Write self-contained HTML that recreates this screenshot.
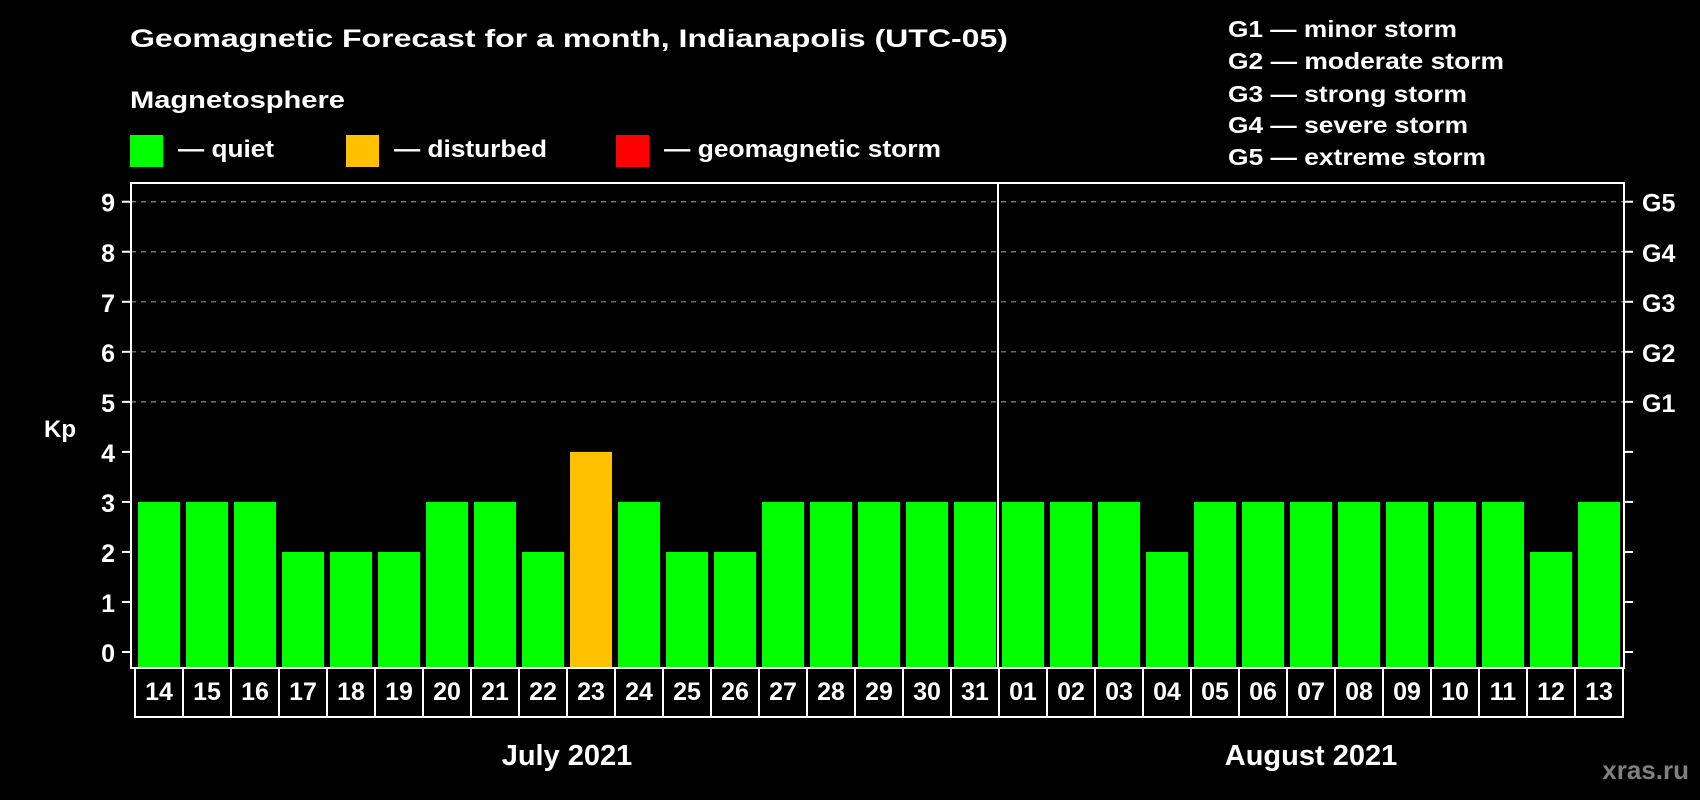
<!DOCTYPE html>
<html><head><meta charset="utf-8"><style>
html,body{margin:0;padding:0;background:#000;}
svg{display:block;font-family:"Liberation Sans",Arial,sans-serif;font-weight:bold;}
</style></head><body>
<svg id="chart" width="1700" height="800" viewBox="0 0 1700 800" xmlns="http://www.w3.org/2000/svg">
<rect x="0" y="0" width="1700" height="800" fill="#000"/>
<text x="130" y="47" fill="#fff" font-size="25" textLength="878" lengthAdjust="spacingAndGlyphs">Geomagnetic Forecast for a month, Indianapolis (UTC-05)</text>
<text x="130" y="108" fill="#fff" font-size="24" textLength="215" lengthAdjust="spacingAndGlyphs">Magnetosphere</text>
<g>
<rect x="130" y="135" width="33" height="32" fill="#00ff00"/>
<text x="178" y="157" fill="#fff" font-size="24" textLength="96" lengthAdjust="spacingAndGlyphs">— quiet</text>
</g>
<g>
<rect x="346" y="135" width="33" height="32" fill="#ffc000"/>
<text x="394" y="157" fill="#fff" font-size="24" textLength="153" lengthAdjust="spacingAndGlyphs">— disturbed</text>
</g>
<g>
<rect x="616" y="135" width="33" height="32" fill="#ff0000"/>
<text x="664" y="157" fill="#fff" font-size="24" textLength="277" lengthAdjust="spacingAndGlyphs">— geomagnetic storm</text>
</g>
<g fill="#fff" font-size="23">
<text x="1228" y="37" textLength="229" lengthAdjust="spacingAndGlyphs">G1 — minor storm</text>
<text x="1228" y="69" textLength="276" lengthAdjust="spacingAndGlyphs">G2 — moderate storm</text>
<text x="1228" y="102" textLength="239" lengthAdjust="spacingAndGlyphs">G3 — strong storm</text>
<text x="1228" y="133" textLength="240" lengthAdjust="spacingAndGlyphs">G4 — severe storm</text>
<text x="1228" y="165" textLength="258" lengthAdjust="spacingAndGlyphs">G5 — extreme storm</text>
</g>
<text x="44" y="437" fill="#fff" font-size="24">Kp</text>
<g id="grid"></g>
<g id="bars"></g>
<g id="axes"></g>
<text x="1689" y="779" fill="#808080" font-size="26" text-anchor="end">xras.ru</text>
</svg>
<script>
const days = ["14","15","16","17","18","19","20","21","22","23","24","25","26","27","28","29","30","31","01","02","03","04","05","06","07","08","09","10","11","12","13"];
const kpValues = [3,3,3,2,2,2,3,3,2,4,3,2,2,3,3,3,3,3,3,3,3,2,3,3,3,3,3,3,3,2,3];
const yTicks = [0,1,2,3,4,5,6,7,8,9];
const gLabels = ["G1","G2","G3","G4","G5"];
const gLevels = [5,6,7,8,9];
const months = ["July 2021","August 2021"];
const monthDayCounts = [18,13];

const NS="http://www.w3.org/2000/svg";
const plotL=131, plotR=1624, plotT=183, plotB=668;
const y0=652, unit=50.03;
const cellL=135, cellW=48;
function yScale(v){return y0-unit*v;}
function xCell(i){return cellL+cellW*i;}
function mk(tag,attrs,parent){const e=document.createElementNS(NS,tag);for(const k in attrs)e.setAttribute(k,attrs[k]);parent.appendChild(e);return e;}
const grid=document.getElementById('grid'),bars=document.getElementById('bars'),axes=document.getElementById('axes');

gLevels.forEach((lv,i)=>{
  const l=mk('line',{x1:plotL,x2:plotR,y1:yScale(lv),y2:yScale(lv),stroke:'#8a8a8a','stroke-width':1.2,'stroke-dasharray':'5,5'},grid);
  
  
  const t=mk('text',{x:1642,y:yScale(lv)+10,fill:'#fff','font-size':25},axes);
  t.textContent=gLabels[i];
  
  
});

kpValues.forEach((v,i)=>{
  const col=v>=5?'#ff0000':(v>=4?'#ffc000':'#00ff00');
  const r=mk('rect',{x:xCell(i)+3,y:yScale(v),width:42,height:yScale(0)-yScale(v)+16,fill:col},bars);
  
  
});

// frame
const fr=mk('rect',{x:plotL,y:plotT,width:plotR-plotL,height:plotB-plotT,fill:'none',stroke:'#fff','stroke-width':2},axes);


// month divider
const divX=xCell(monthDayCounts[0])-1;
const dv=mk('line',{x1:divX,x2:divX,y1:plotT,y2:plotB,stroke:'#fff','stroke-width':2},axes);



yTicks.forEach(v=>{
  const y=yScale(v);
  const a=mk('line',{x1:122,x2:plotL,y1:y,y2:y,stroke:'#fff','stroke-width':2},axes);
  
  
  const b=mk('line',{x1:plotR,x2:1633,y1:y,y2:y,stroke:'#fff','stroke-width':2},axes);
  
  
  const t=mk('text',{x:115,y:y+10,fill:'#fff','font-size':25,'text-anchor':'end'},axes);
  t.textContent=String(v);
  
  
});

days.forEach((d,i)=>{
  const c=mk('rect',{x:xCell(i),y:plotB,width:cellW,height:49,fill:'none',stroke:'#fff','stroke-width':2},axes);
  
  
  const t=mk('text',{x:xCell(i)+cellW/2,y:700,fill:'#fff','font-size':25,'text-anchor':'middle'},axes);
  t.textContent=d;
  
  
});

let start=0;
months.forEach((m,i)=>{
  const cx=xCell(start)+monthDayCounts[i]*cellW/2;
  const t=mk('text',{x:cx,y:765,fill:'#fff','font-size':29,'text-anchor':'middle'},axes);
  t.textContent=m;
  
  
  start+=monthDayCounts[i];
});
</script>
</body></html>
